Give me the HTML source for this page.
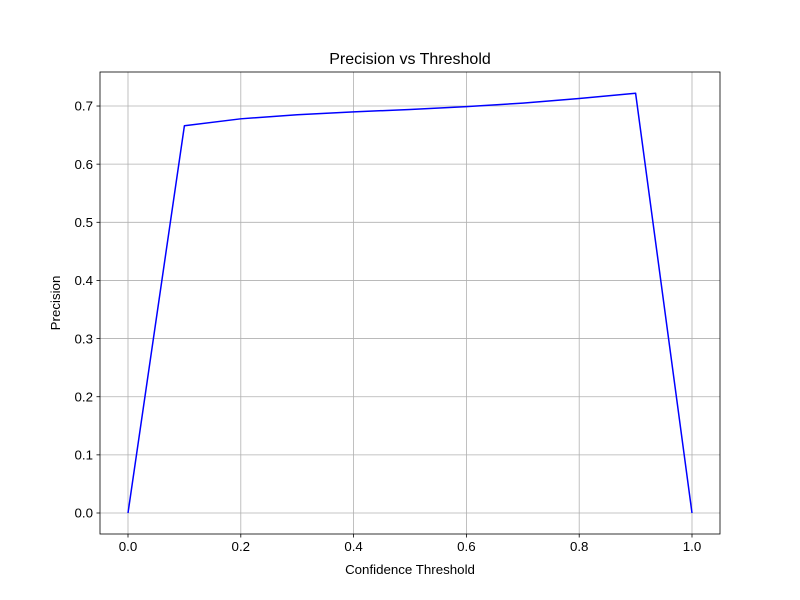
<!DOCTYPE html>
<html>
<head>
<meta charset="utf-8">
<style>
  html, body { margin: 0; padding: 0; background: #fff; }
  svg { display: block; font-family: "Liberation Sans", "DejaVu Sans", sans-serif; }
</style>
</head>
<body>
<svg id="chart" width="800" height="600" viewBox="0 0 800 600"></svg>
<script>
const thresholds = [0.0, 0.1, 0.2, 0.3, 0.4, 0.5, 0.6, 0.7, 0.8, 0.9, 1.0];
const precision = [0.0, 0.666, 0.678, 0.685, 0.690, 0.694, 0.699, 0.705, 0.713, 0.722, 0.0];
const xTicks = [0.0, 0.2, 0.4, 0.6, 0.8, 1.0];
const xTickLabels = ["0.0", "0.2", "0.4", "0.6", "0.8", "1.0"];
const yTicks = [0.0, 0.1, 0.2, 0.3, 0.4, 0.5, 0.6, 0.7];
const yTickLabels = ["0.0", "0.1", "0.2", "0.3", "0.4", "0.5", "0.6", "0.7"];

const NS = "http://www.w3.org/2000/svg";
const svg = document.getElementById("chart");
const L = 100, R = 720, T = 72, B = 534;
function xs(v) { return 128 + v * 564; }
function ys(v) { return 513 - v * 581.4; }
function mk(tag, attrs, parent) {
  const e = document.createElementNS(NS, tag);
  for (const k in attrs) e.setAttribute(k, attrs[k]);
  (parent || svg).appendChild(e);
  return e;
}

// grid
xTicks.forEach((v, i) => {
  const g = mk("line", {x1: xs(v), x2: xs(v), y1: T, y2: B, stroke: "#b0b0b0", "stroke-width": 0.8});
  
  
});
yTicks.forEach((v, i) => {
  const g = mk("line", {x1: L, x2: R, y1: ys(v), y2: ys(v), stroke: "#b0b0b0", "stroke-width": 0.8});
  
  
});

// line
const pts = thresholds.map((t, i) => xs(t) + "," + ys(precision[i])).join(" ");
const line = mk("polyline", {points: pts, fill: "none", stroke: "#0000ff", "stroke-width": 1.5, "stroke-linejoin": "round"});



// frame
const frame = mk("rect", {x: L, y: T, width: R - L, height: B - T, fill: "none", stroke: "#000", "stroke-width": 0.8});



// ticks
xTicks.forEach((v, i) => {
  const t = mk("line", {x1: xs(v), x2: xs(v), y1: B, y2: B + 3.5, stroke: "#000", "stroke-width": 0.8});
  
  
  const lb = mk("text", {x: xs(v), y: B + 17, "text-anchor": "middle", "font-size": 13.3, fill: "#000"});
  lb.textContent = xTickLabels[i];
  
  
});
yTicks.forEach((v, i) => {
  const t = mk("line", {x1: L - 3.5, x2: L, y1: ys(v), y2: ys(v), stroke: "#000", "stroke-width": 0.8});
  
  
  const lb = mk("text", {x: L - 7, y: ys(v) + 4.7, "text-anchor": "end", "font-size": 13.3, fill: "#000"});
  lb.textContent = yTickLabels[i];
  
  
});

// titles
const title = mk("text", {x: 410, y: 64, "text-anchor": "middle", "font-size": 16, fill: "#000"});
title.textContent = "Precision vs Threshold";


const xl = mk("text", {x: 410, y: 574, "text-anchor": "middle", "font-size": 13.3, fill: "#000"});
xl.textContent = "Confidence Threshold";


const yl = mk("text", {x: 60, y: 303, "text-anchor": "middle", "font-size": 13.3, fill: "#000", transform: "rotate(-90 60 303)"});
yl.textContent = "Precision";


</script>
</body>
</html>
